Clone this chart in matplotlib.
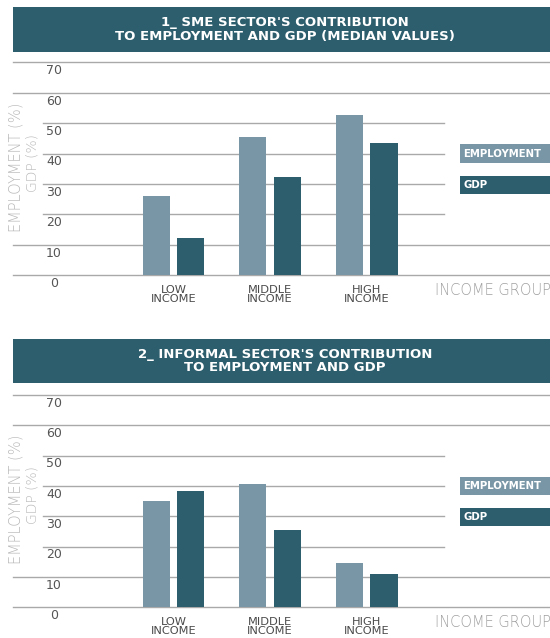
import numpy as np
import matplotlib
matplotlib.use("Agg")
import matplotlib.pyplot as plt
from matplotlib.patches import Rectangle
import matplotlib.transforms as mtransforms

# data (median values, %)
groups = ["LOW\nINCOME", "MIDDLE\nINCOME", "HIGH\nINCOME"]
sme_employment = [26.0, 45.5, 52.7]
sme_gdp = [12.3, 32.2, 43.5]
informal_employment = [35.2, 40.5, 14.6]
informal_gdp = [38.2, 25.5, 11.0]
yticks = [0, 10, 20, 30, 40, 50, 60, 70]
titles = ["1_ SME SECTOR'S CONTRIBUTION\nTO EMPLOYMENT AND GDP (MEDIAN VALUES)",
          "2_ INFORMAL SECTOR'S CONTRIBUTION\nTO EMPLOYMENT AND GDP"]

light = "#7896a6"
dark = "#2c5e6d"
grid_c = "#a9a9a9"

plt.rcParams['font.family'] = ['DejaVu Sans']

fig = plt.figure(figsize=(5.5, 6.38), dpi=100)
W, H = 550.0, 638.0


def draw_panel(bottom_px, top_px, header_px, emp, gdp, title):
    ax = fig.add_axes([0, 1 - bottom_px / H, 1, (bottom_px - top_px) / H])
    ax.set_ylim(0, 70)
    ax.set_xlim(-1.796, 3.898)
    ax.axis("off")
    x = np.arange(len(groups))
    w = 0.283
    ax.bar(x - 0.179, emp, w, color=light, zorder=3)
    ax.bar(x + 0.179, gdp, w, color=dark, zorder=3)
    tr = mtransforms.blended_transform_factory(ax.transAxes, ax.transData)

    # gridlines, some shortened to make room for the legend
    for v in yticks:
        if v in (20, 30, 40, 50):
            ax.axhline(v, 43 / W, 444 / W, color=grid_c, lw=1.0, zorder=1, clip_on=False)
        else:
            ax.axhline(v, 12.7 / W, 1.0, color=grid_c, lw=1.0, zorder=1, clip_on=False)
        ax.annotate(str(v), xy=(54 / W, v), xycoords=("axes fraction", "data"),
                    xytext=(0, -6), textcoords="offset points", ha="center", va="center",
                    fontsize=9, color="#555555")

    for i, g in enumerate(groups):
        ax.annotate(g, xy=(i, 0), xytext=(0, -14.0), textcoords="offset points",
                    ha="center", va="center", fontsize=8.2, color="#4a4a4a",
                    linespacing=0.88, annotation_clip=False)

    ax.annotate("INCOME GROUP", xy=(435 / W, 0), xycoords=("axes fraction", "data"),
                xytext=(0, -11.3), textcoords="offset points", ha="left", va="center",
                fontsize=10.5, color="#a0a0a0", fontweight="light", annotation_clip=False)

    ax.text(16 / W, 35.5, "EMPLOYMENT (%)", transform=tr, rotation=90, ha="center",
            va="center", fontsize=10.5, color="#b8b8b8", fontweight="light")
    ax.text(33 / W, 37, "GDP (%)", transform=tr, rotation=90, ha="center",
            va="center", fontsize=10, color="#b8b8b8", fontweight="light")

    # legend boxes
    for (y0, y1, col, lab) in [(37.0, 43.0, light, "EMPLOYMENT"), (26.7, 32.7, dark, "GDP")]:
        ax.add_patch(Rectangle((460 / W, y0), 1 - 460 / W, y1 - y0, transform=tr,
                               facecolor=col, edgecolor="none", clip_on=False, zorder=4))
        ax.text(463 / W, (y0 + y1) / 2, lab, transform=tr, ha="left", va="center",
                fontsize=7.3, color="white", fontweight="bold", zorder=5)

    # header band
    h0, h1 = header_px
    fig.patches.append(Rectangle((12.7 / W, 1 - h1 / H), 1 - 12.7 / W, (h1 - h0) / H,
                                 transform=fig.transFigure, facecolor=dark, edgecolor="none"))
    fig.text(285 / W, 1 - (h0 + h1) / 2 / H, title, ha="center", va="center",
             fontsize=9.5, color="white", fontweight="bold", linespacing=1.05)
    return ax


draw_panel(275.3, 62.3, (7.3, 51.7), sme_employment, sme_gdp, titles[0])
draw_panel(607.3, 395.0, (339.0, 383.3), informal_employment, informal_gdp, titles[1])

fig.savefig("out.png", dpi=100)
